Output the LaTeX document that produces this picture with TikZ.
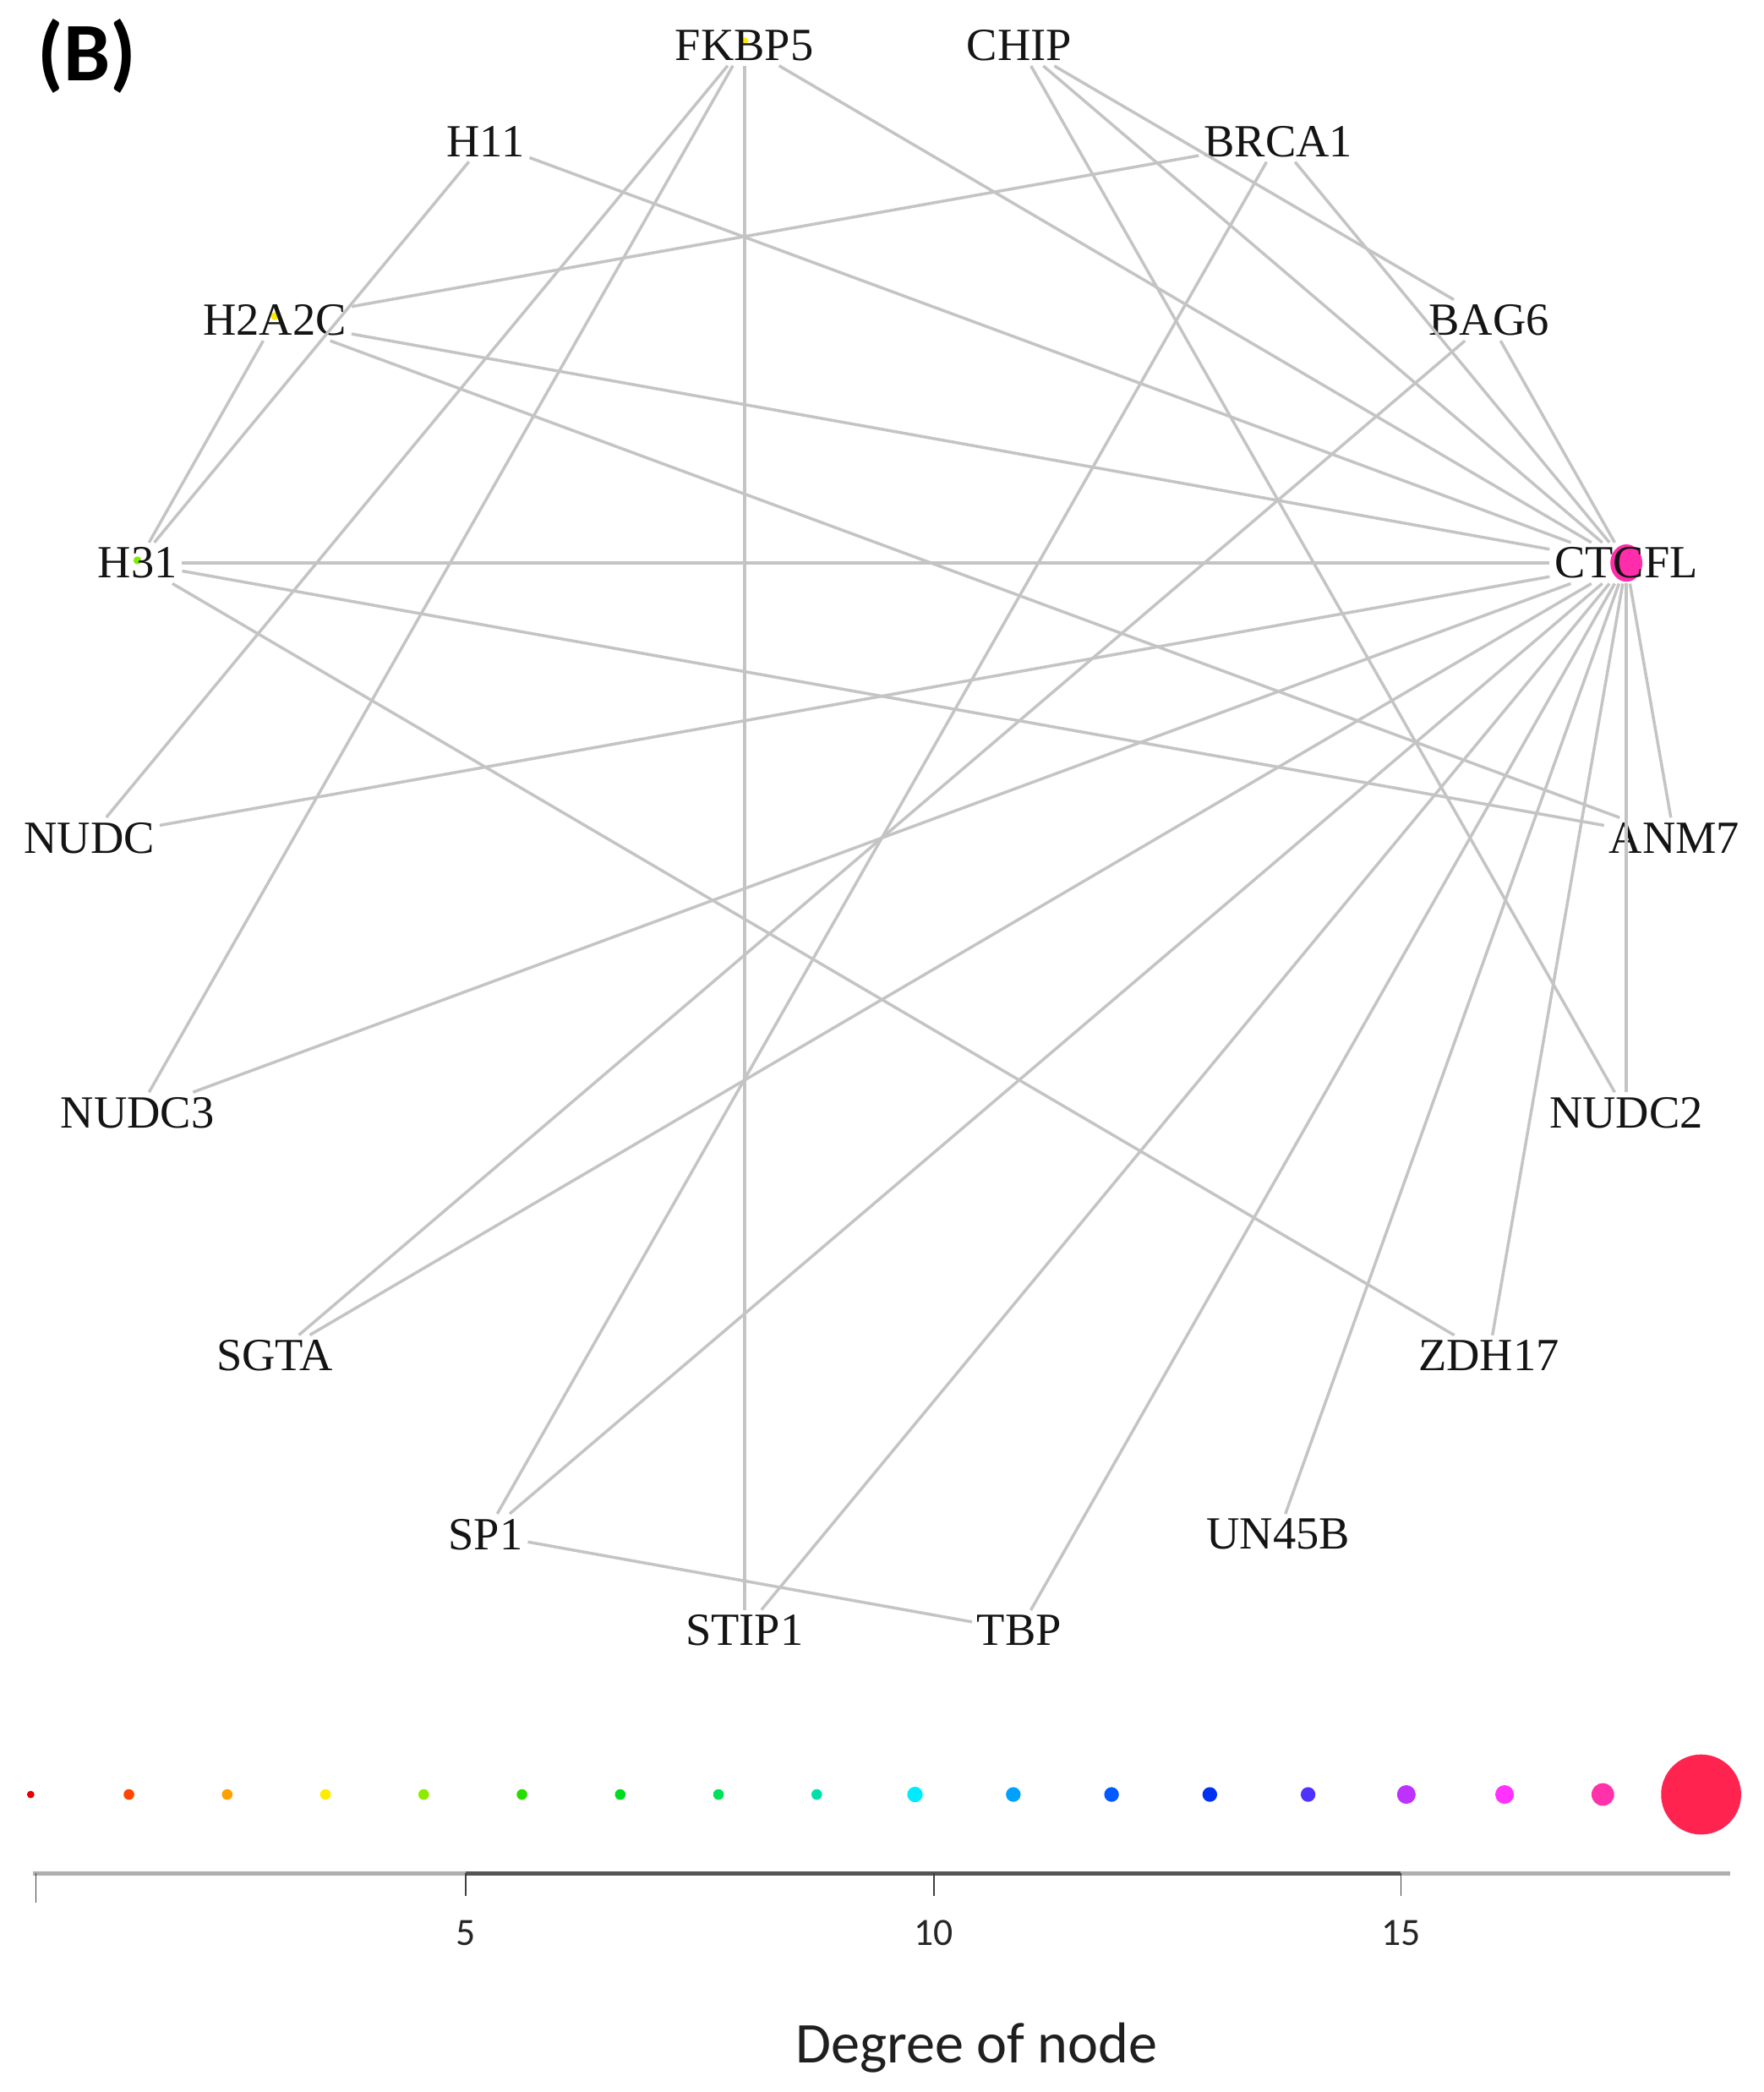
\documentclass[tikz,border=0pt]{standalone}
\usepackage{fontspec}
\setmainfont{Liberation Serif}
\newfontfamily\carl{Carlito}
\definecolor{edgegray}{RGB}{196,196,196}
\definecolor{ctpink}{RGB}{255,45,170}
\definecolor{degfour}{RGB}{255,235,0}
\definecolor{degfive}{RGB}{130,235,0}
\definecolor{c1}{RGB}{230,0,0}
\definecolor{c2}{RGB}{255,70,0}
\definecolor{c3}{RGB}{255,160,0}
\definecolor{c4}{RGB}{255,235,0}
\definecolor{c5}{RGB}{140,235,0}
\definecolor{c6}{RGB}{40,220,0}
\definecolor{c7}{RGB}{0,220,30}
\definecolor{c8}{RGB}{0,225,90}
\definecolor{c9}{RGB}{0,225,170}
\definecolor{c10}{RGB}{0,235,255}
\definecolor{c11}{RGB}{0,160,255}
\definecolor{c12}{RGB}{0,90,255}
\definecolor{c13}{RGB}{0,50,240}
\definecolor{c14}{RGB}{80,50,255}
\definecolor{c15}{RGB}{190,50,255}
\definecolor{c16}{RGB}{255,50,255}
\definecolor{c17}{RGB}{255,50,170}
\definecolor{c18}{RGB}{255,35,80}
\begin{document}
\begin{tikzpicture}[x=0.01578cm,y=-0.01578cm,
  lab/.style={font=\fontsize{15.5}{17}\selectfont, inner sep=1.5pt, text=black!92},
  edge/.style={draw=edgegray, line width=1pt},
  ticklab/.style={font=\carl\fontsize{13}{15}\selectfont, text=black!85, inner sep=0pt}]
\useasboundingbox (0,0) rectangle (1322,1568);

% panel letter
\node[font=\carl\bfseries\fontsize{28}{30}\selectfont, inner sep=0pt] (panel) at (65,42) {(B)};

% vertex labels
\node[lab, path picture={\fill[degfour] (path picture bounding box.center) ++(0,-3) circle (3);}] (FKBP5) at (558,34) {FKBP5};
\node[lab] (CHIP) at (764,34) {CHIP};
\node[lab] (BRCA1) at (958,106) {BRCA1};
\node[lab] (BAG6) at (1116,240) {BAG6};
\node[lab, path picture={\fill[ctpink] (path picture bounding box.center) ellipse (12 and 14);}] (CTCFL) at (1219,422) {CTCFL};
\node[lab] (ANM7) at (1255,628) {ANM7};
\node[lab] (NUDC2) at (1219,834) {NUDC2};
\node[lab] (ZDH17) at (1116,1016) {ZDH17};
\node[lab] (UN45B) at (958,1150) {UN45B};
\node[lab] (TBP) at (764,1222) {TBP};
\node[lab] (STIP1) at (558,1222) {STIP1};
\node[lab] (SP1) at (364,1150) {SP1};
\node[lab] (SGTA) at (206,1016) {SGTA};
\node[lab] (NUDC3) at (103,834) {NUDC3};
\node[lab] (NUDC) at (67,628) {NUDC};
\node[lab, path picture={\fill[degfive] (path picture bounding box.center) ++(0,-2) circle (3);}] (H31) at (103,422) {H31};
\node[lab, path picture={\fill[degfour] (path picture bounding box.center) ++(0,-3) circle (3);}] (H2A2C) at (206,240) {H2A2C};
\node[lab] (H11) at (364,106) {H11};

% edges
\draw[edge] (FKBP5) -- (STIP1);
\draw[edge] (FKBP5) -- (CTCFL);
\draw[edge] (FKBP5) -- (NUDC);
\draw[edge] (FKBP5) -- (NUDC3);
\draw[edge] (CHIP) -- (BAG6);
\draw[edge] (CHIP) -- (CTCFL);
\draw[edge] (CHIP) -- (NUDC2);
\draw[edge] (BRCA1) -- (H2A2C);
\draw[edge] (BRCA1) -- (SP1);
\draw[edge] (BRCA1) -- (CTCFL);
\draw[edge] (BAG6) -- (CTCFL);
\draw[edge] (BAG6) -- (SGTA);
\draw[edge] (H11) -- (H31);
\draw[edge] (H11) -- (CTCFL);
\draw[edge] (H2A2C) -- (H31);
\draw[edge] (H2A2C) -- (CTCFL);
\draw[edge] (H2A2C) -- (ANM7);
\draw[edge] (H31) -- (CTCFL);
\draw[edge] (H31) -- (ANM7);
\draw[edge] (H31) -- (ZDH17);
\draw[edge] (NUDC) -- (CTCFL);
\draw[edge] (NUDC3) -- (CTCFL);
\draw[edge] (SGTA) -- (CTCFL);
\draw[edge] (SP1) -- (CTCFL);
\draw[edge] (SP1) -- (TBP);
\draw[edge] (STIP1) -- (CTCFL);
\draw[edge] (TBP) -- (CTCFL);
\draw[edge] (UN45B) -- (CTCFL);
\draw[edge] (ZDH17) -- (CTCFL);
\draw[edge] (NUDC2) -- (CTCFL);
\draw[edge] (ANM7) -- (CTCFL);

% legend dots
\foreach \i/\r in {1/2.8,2/4,3/4,4/4,5/4,6/4,7/4,8/4,9/4,10/5.8,11/5.5,12/5.5,13/5.5,14/5.5,15/7,16/7,17/8.5,18/30}{
  \fill[c\i] ({23+(\i-1)*73.65},1345) circle (\r);
}

% axis
\draw[line width=1.4pt, color={rgb,255:red,175;green,175;blue,175}] (25,1404) -- (1297,1404);
\draw[line width=1.4pt, color={rgb,255:red,85;green,85;blue,85}] (349,1404) -- (1050,1404);
\draw[line width=0.5pt, black!75] (27,1404) -- (27,1426);
\draw[line width=0.5pt, black!75] (349,1404) -- (349,1421);
\draw[line width=0.5pt, black!75] (700,1404) -- (700,1421);
\draw[line width=0.5pt, black!75] (1050,1404) -- (1050,1421);
\node[ticklab] (t5) at (349,1449) {5};
\node[ticklab] (t10) at (700,1449) {10};
\node[ticklab] (t15) at (1050,1449) {15};
\node[font=\carl\fontsize{19.4}{21}\selectfont, text=black!88, inner sep=0pt] (xlab) at (732,1535) {Degree of node};
\end{tikzpicture}
\end{document}
